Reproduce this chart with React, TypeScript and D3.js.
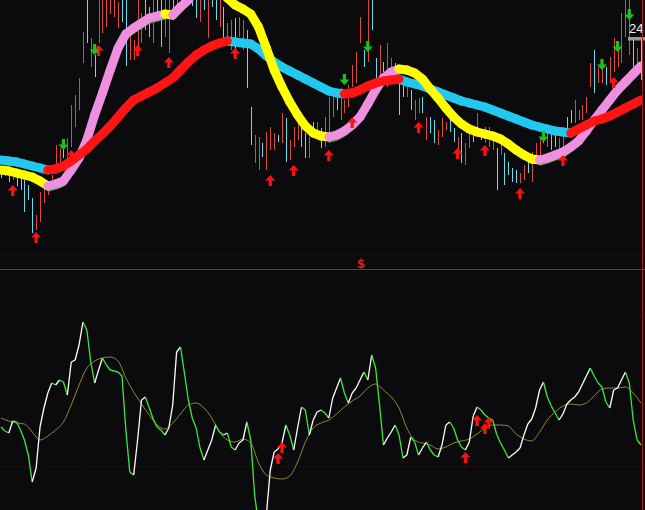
import React from 'react';
import * as d3 from 'd3';

const W = 645;
const H = 510;

// candle high/low prices and direction (1 = up/red, 0 = down/cyan)
const barHigh = [
  22.62,22.65,22.60,22.62,22.58,22.55,22.50,22.45,22.32,22.15,
  22.38,22.42,22.47,22.55,22.85,22.82,22.90,22.92,23.25,23.35,
  23.52,23.98,24.35,23.92,23.75,24.45,24.40,24.35,24.40,24.32,
  24.28,24.32,24.34,23.97,23.90,24.35,24.17,24.35,24.23,24.35,
  24.35,24.32,24.35,24.35,24.38,24.42,24.50,24.52,24.55,24.48,
  24.38,24.36,24.34,24.40,24.36,24.34,24.34,24.23,24.07,24.10,
  24.12,24.13,24.10,24.00,23.23,22.95,22.93,22.87,22.98,23.03,
  22.97,22.95,23.17,23.12,22.90,23.03,23.10,23.17,22.97,22.93,
  23.08,23.08,23.02,23.13,23.33,23.37,23.32,23.42,23.30,23.45,
  23.65,23.78,24.13,23.80,24.40,24.38,23.72,23.85,23.68,23.87,
  23.72,23.67,23.52,23.47,23.43,23.40,23.30,23.32,23.33,23.13,
  23.13,23.10,23.00,23.12,23.08,23.13,23.02,22.93,22.97,22.87,
  22.97,23.00,23.17,22.98,23.03,23.03,22.93,22.82,22.90,22.77,
  22.68,22.62,22.60,22.57,22.65,22.72,22.78,22.87,22.93,22.98,
  23.00,22.97,22.98,22.92,23.00,23.13,23.20,23.30,23.20,23.25,
  23.33,23.67,23.80,23.63,23.68,23.63,23.73,23.92,23.83,24.17,
  24.40,24.35,23.90,23.82,23.90,
];
const barLow = [
  22.52,22.54,22.48,22.50,22.44,22.40,22.18,22.30,21.97,22.00,
  22.08,22.27,22.35,22.42,22.62,22.65,22.72,22.70,22.83,23.03,
  23.20,23.67,23.87,23.63,23.53,23.87,23.97,24.03,24.16,24.13,
  24.02,24.08,23.64,23.70,23.70,23.80,23.87,24.00,23.93,23.87,
  24.10,23.83,23.93,23.77,24.10,24.20,24.26,24.30,24.33,24.24,
  24.12,24.08,24.20,23.92,24.23,24.10,24.03,23.87,23.85,23.80,
  23.80,23.93,23.80,23.42,22.85,22.67,22.60,22.73,22.60,22.80,
  22.80,22.88,22.87,22.68,22.70,22.83,22.90,22.83,22.72,22.72,
  22.92,22.93,22.82,22.83,22.87,23.13,23.20,23.10,23.17,23.23,
  23.43,23.47,23.87,23.63,23.68,24.00,23.50,23.50,23.58,23.43,
  23.53,23.53,23.15,23.33,23.33,23.20,23.10,23.17,23.17,22.90,
  22.97,22.87,22.85,22.93,23.00,22.98,22.88,22.78,22.67,22.65,
  22.82,22.88,22.97,22.90,22.87,22.83,22.80,22.40,22.75,22.45,
  22.55,22.48,22.47,22.47,22.50,22.57,22.48,22.70,22.73,22.87,
  22.83,22.80,22.83,22.78,22.73,22.93,23.07,23.07,23.10,23.10,
  23.17,23.43,23.37,23.47,23.47,23.45,23.47,23.58,23.63,23.67,
  23.93,23.75,23.63,23.63,23.50,
];
const barUp = [
  0,1,0,1,0,0,0,0,0,1,
  1,1,1,1,1,1,0,1,1,1,
  1,1,0,1,0,1,1,1,1,1,
  1,0,0,1,1,1,1,0,0,1,
  0,0,1,1,0,1,0,1,1,0,
  0,1,0,1,0,0,1,0,1,1,
  0,1,1,0,0,1,1,0,1,1,
  1,0,1,0,1,1,1,0,0,1,
  0,1,0,1,1,1,0,1,1,1,
  1,1,1,0,1,0,0,1,0,1,
  1,0,0,0,1,0,1,1,0,1,
  0,0,1,1,1,0,0,1,0,1,
  1,0,1,0,1,1,1,0,1,0,
  0,0,0,1,1,0,1,1,1,0,
  1,0,0,1,1,0,0,1,1,1,
  1,1,0,1,1,0,1,1,1,1,
  1,1,0,1,0,
];

// moving averages, one value every 2 bars
const fastMA = [
  22.60,22.59,22.57,22.55,22.53,22.49,22.44,22.46,22.49,22.60,
  22.72,22.90,23.15,23.37,23.60,23.82,23.96,24.02,24.07,24.12,
  24.14,24.16,24.15,24.23,24.30,24.42,24.50,24.52,24.46,24.32,
  24.25,24.21,24.16,24.03,23.82,23.60,23.43,23.28,23.15,23.04,
  22.97,22.94,22.93,22.95,22.99,23.05,23.13,23.26,23.40,23.52,
  23.58,23.61,23.60,23.57,23.51,23.41,23.32,23.22,23.13,23.06,
  23.01,22.98,22.96,22.94,22.91,22.86,22.80,22.75,22.71,22.70,
  22.72,22.75,22.78,22.83,22.89,22.99,23.10,23.20,23.30,23.40,
  23.48,23.56,23.64,
];
const slowMA = [
  22.70,22.69,22.68,22.66,22.64,22.62,22.60,22.61,22.64,22.69,
  22.75,22.81,22.89,22.96,23.04,23.13,23.22,23.30,23.34,23.38,
  23.42,23.47,23.52,23.60,23.68,23.75,23.80,23.84,23.87,23.89,
  23.88,23.87,23.86,23.81,23.74,23.68,23.63,23.59,23.55,23.51,
  23.47,23.43,23.39,23.37,23.36,23.37,23.40,23.44,23.47,23.49,
  23.50,23.51,23.48,23.46,23.44,23.41,23.38,23.35,23.32,23.29,
  23.27,23.25,23.23,23.20,23.17,23.14,23.11,23.08,23.05,23.03,
  23.01,22.99,22.98,22.97,23.01,23.05,23.09,23.11,23.14,23.18,
  23.22,23.26,23.30,
];

// oscillator, one value per bar
const osc = [
  83,79,77,89,88,80,70,55,28,42,
  83,102,117,127,125,130,128,115,148,150,
  165,188,180,148,127,140,152,145,140,139,
  138,134,80,38,35,70,110,113,102,91,
  83,80,75,82,105,158,163,137,110,92,
  82,62,50,60,70,85,78,75,77,63,
  60,67,70,88,70,15,-15,-30,-5,40,
  58,61,67,85,75,60,82,103,100,75,
  90,98,100,97,92,112,122,132,117,107,
  117,122,130,138,130,155,142,105,65,72,
  78,85,75,52,55,73,68,55,62,68,
  60,55,53,65,85,88,82,70,63,60,
  68,94,103,100,95,92,90,76,67,60,
  52,55,58,62,75,86,91,102,120,128,
  113,104,97,90,96,106,110,113,118,126,
  134,142,134,127,123,108,102,120,122,130,
  138,127,90,70,65,
];
// signal line, one value every 2 bars
const signal = [
  92,89,87,86,78,70,74,80,88,105,
  125,142,149,152,153,149,132,118,106,95,
  85,81,87,96,105,107,102,92,78,70,
  68,71,67,47,35,32,31,34,48,68,
  82,87,90,96,103,109,114,122,126,120,
  113,102,82,70,67,65,61,63,67,69,
  71,76,82,85,85,84,76,71,69,78,
  90,98,104,106,105,107,114,121,122,122,
  123,117,107,
];

const upArrowBars = [3, 9, 18, 25, 35, 43, 60, 69, 75, 84, 90, 107, 117, 124, 133, 144, 157];
const upArrowPrice = [22.45, 21.98, 22.80, 23.85, 23.85, 23.73, 23.82, 22.55, 22.65, 22.80, 23.13, 23.08, 22.82, 22.85, 22.42, 22.75, 23.53];
const downArrowBars = [16, 24, 88, 94, 139, 154, 158, 161];
const downArrowPrice = [22.80, 23.75, 23.45, 23.78, 22.88, 23.60, 23.78, 24.10];
const oscArrowBars = [71, 72, 119, 122, 124, 125];
const oscArrowValue = [57, 68, 58, 95, 87, 93];
const priceLabel = '24';
const markerLabel = '$';

const C = {
  bg: '#0b0b0d',
  candleUp: '#db4a40',
  candleDown: '#66dcea',
  fastUp: '#ee8fdf',
  fastDown: '#ffff00',
  fastEdge: '#4aa04a',
  slowUp: '#ff1414',
  slowDown: '#22c8ee',
  oscUp: '#ffffff',
  oscDown: '#3ee83e',
  signal: '#8c8a3a',
  arrowUp: '#ff1010',
  arrowDown: '#1fbf1f',
  divider: '#a81c1c',
  grid: '#2a1010',
};

const upArrowPath = 'M0,0 L5,5.5 L1.6,5.5 L1.6,11 L-1.6,11 L-1.6,5.5 L-5,5.5 Z';
const downArrowPath = 'M0,0 L5,-5.5 L1.6,-5.5 L1.6,-11 L-1.6,-11 L-1.6,-5.5 L-5,-5.5 Z';

export default function App() {
  const N = barHigh.length;
  const x = d3.scaleLinear().domain([0, N - 1]).range([1, 641]);
  const yTop = d3.scaleLinear().domain([21.6, 24.3]).range([270, 0]);
  const yOsc = d3.scaleLinear().domain([0, 190]).range([510, 320]);

  const segs = (vals: number[], step: number, yS: d3.ScaleLinear<number, number>) =>
    vals.slice(0, -1).map((v, k) => ({
      x1: x(k * step), y1: yS(v), x2: x((k + 1) * step), y2: yS(vals[k + 1]),
      up: vals[k + 1] >= v,
    }));

  const fastSegs = segs(fastMA, 2, yTop);
  const slowSegs = segs(slowMA, 2, yTop);
  const oscSegs = segs(osc, 1, yOsc);

  const signalPath = d3.line<number>()
    .x((_, k) => x(k * 2))
    .y((d) => yOsc(d))
    .curve(d3.curveMonotoneX)(signal) || '';

  const band = 9;

  return (
    <svg width={W} height={H} style={{ position: 'absolute', left: 0, top: 0, display: 'block' }}>
      <defs>
        <clipPath id="topClip"><rect x={0} y={0} width={642} height={268} /></clipPath>
        <clipPath id="botClip"><rect x={0} y={271} width={642} height={239} /></clipPath>
      </defs>
      <rect x={0} y={0} width={W} height={H} fill={C.bg} />

      {/* faint grid */}
      {[254, 316, 466].map((gy) => (
        <line key={gy} x1={0} x2={642} y1={gy + 0.5} y2={gy + 0.5} stroke={C.grid} strokeWidth={1} strokeDasharray="2,2" />
      ))}

      <g clipPath="url(#topClip)">
        {barHigh.map((h, i) => (
          <line key={'b' + i} x1={Math.round(x(i)) + 0.5} x2={Math.round(x(i)) + 0.5}
            y1={yTop(h)} y2={yTop(barLow[i])}
            stroke={barUp[i] ? C.candleUp : C.candleDown} strokeWidth={1} />
        ))}
        {slowSegs.filter((s) => !s.up).map((s, k) => (
          <line key={'sd' + k} {...{ x1: s.x1, y1: s.y1, x2: s.x2, y2: s.y2 }} stroke={C.slowDown} strokeWidth={band} strokeLinecap="round" />
        ))}
        {fastSegs.filter((s) => s.up).map((s, k) => (
          <line key={'fe' + k} x1={s.x1} y1={s.y1 + 5} x2={s.x2} y2={s.y2 + 5} stroke={C.fastEdge} strokeWidth={1.5} />
        ))}
        {fastSegs.map((s, k) => (
          <line key={'f' + k} {...{ x1: s.x1, y1: s.y1, x2: s.x2, y2: s.y2 }} stroke={s.up ? C.fastUp : C.fastDown} strokeWidth={band} strokeLinecap="round" />
        ))}
        {slowSegs.filter((s) => s.up).map((s, k) => (
          <line key={'su' + k} {...{ x1: s.x1, y1: s.y1, x2: s.x2, y2: s.y2 }} stroke={C.slowUp} strokeWidth={band} strokeLinecap="round" />
        ))}
        {upArrowBars.map((b, k) => (
          <path key={'ua' + k} d={upArrowPath} transform={`translate(${x(b)},${yTop(upArrowPrice[k])})`} fill={C.arrowUp} />
        ))}
        {downArrowBars.map((b, k) => (
          <path key={'da' + k} d={downArrowPath} transform={`translate(${x(b)},${yTop(downArrowPrice[k])})`} fill={C.arrowDown} />
        ))}
      </g>

      {/* last price label */}
      <text x={629} y={33} fill="#f0f0f0" fontSize={13} fontFamily="Liberation Sans, Arial, sans-serif">{priceLabel}</text>
      <rect x={628} y={37} width={17} height={3.5} fill="#9a9a9a" />

      {/* divider */}
      <line x1={0} x2={645} y1={269.5} y2={269.5} stroke={C.divider} strokeWidth={1} />
      <text x={361} y={268} textAnchor="middle" fill="#e01a1a" fontSize={12} fontWeight="bold" fontFamily="DejaVu Sans, sans-serif">{markerLabel}</text>

      <g clipPath="url(#botClip)">
        <path d={signalPath} fill="none" stroke={C.signal} strokeWidth={1} />
        {oscSegs.map((s, k) => (
          <line key={'o' + k} {...{ x1: s.x1, y1: s.y1, x2: s.x2, y2: s.y2 }} stroke={s.up ? C.oscUp : C.oscDown} strokeWidth={1.3} />
        ))}
        {oscArrowBars.map((b, k) => (
          <path key={'oa' + k} d={upArrowPath} transform={`translate(${x(b)},${yOsc(oscArrowValue[k])})`} fill={C.arrowUp} />
        ))}
      </g>

      {/* right border */}
      <line x1={642.5} x2={642.5} y1={0} y2={H} stroke={C.divider} strokeWidth={1} />
    </svg>
  );
}
